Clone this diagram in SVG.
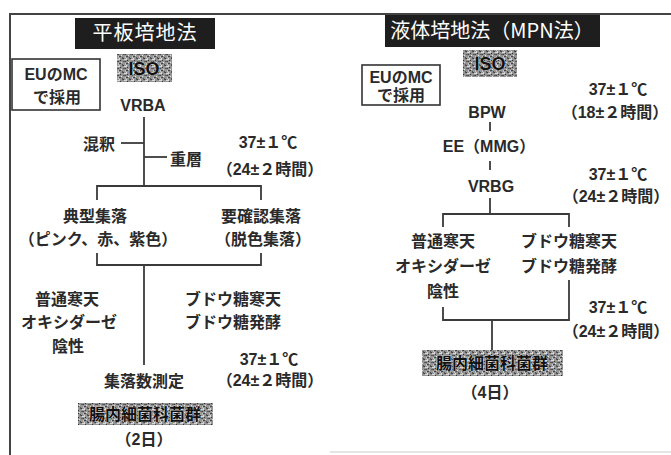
<svg xmlns="http://www.w3.org/2000/svg" width="671" height="455" viewBox="0 0 671 455">
<defs>
<pattern id="noise" width="7" height="7" patternUnits="userSpaceOnUse">
<rect width="7" height="7" fill="#959595"/>
<rect x="0" y="0" width="2" height="1" fill="#444"/>
<rect x="3" y="1" width="1" height="2" fill="#555"/>
<rect x="5" y="3" width="2" height="1" fill="#d8d8d8"/>
<rect x="1" y="4" width="1" height="1" fill="#333"/>
<rect x="4" y="5" width="2" height="1" fill="#5a5a5a"/>
<rect x="2" y="6" width="1" height="1" fill="#e6e6e6"/>
<rect x="6" y="0" width="1" height="2" fill="#c4c4c4"/>
<rect x="0" y="2" width="1" height="2" fill="#dadada"/>
<rect x="4" y="2" width="1" height="1" fill="#3a3a3a"/>
<rect x="6" y="5" width="1" height="1" fill="#444"/>
</pattern>
</defs>
<style>
.t{font-family:"Liberation Sans","Noto Sans CJK JP",sans-serif;font-size:16px;font-weight:bold;fill:#2a2a2a;text-anchor:middle}
.h{font-family:"Noto Sans CJK JP",sans-serif;font-size:20px;fill:#fff;text-anchor:middle}
.ln{fill:none;stroke:#3a3a3a;stroke-width:1.8}
.box{fill:#fff;stroke:#333;stroke-width:1.6}
.tb{fill:#1e1e1e}
.nz{fill:url(#noise)}
.it{font-family:"Liberation Sans","Noto Sans CJK JP",sans-serif;font-weight:bold;fill:#111;text-anchor:middle;stroke:#eee;stroke-width:0.6;paint-order:stroke}
</style>
<rect width="671" height="455" fill="#fff"/>
<path d="M10,455 V14 H671" fill="none" stroke="#444" stroke-width="2"/>
<line x1="330" y1="452" x2="671" y2="452" stroke="#ddd" stroke-width="1.5"/>

<g id="connectors">
<line class="ln" x1="144" y1="117" x2="144" y2="186"/>
<line class="ln" x1="121" y1="143" x2="144" y2="143"/>
<line class="ln" x1="144" y1="157" x2="167" y2="157"/>
<path class="ln" d="M97,200 V186 H261 V200"/>
<path class="ln" d="M97,253 V265 H261 V253"/>
<line class="ln" x1="144" y1="265" x2="144" y2="365"/>
<line class="ln" x1="490" y1="122" x2="490" y2="131"/>
<line class="ln" x1="490" y1="161" x2="490" y2="170"/>
<line class="ln" x1="490" y1="198" x2="490" y2="214"/>
<path class="ln" d="M443,227 V214 H569 V227"/>
<path class="ln" d="M443,307 V320 H569 V280"/>
<line class="ln" x1="492" y1="320" x2="492" y2="350"/>
</g>

<g id="title-left">
<rect class="tb" x="75" y="18" width="140" height="31"/>
<text class="h" x="145" y="40" letter-spacing="1">平板培地法</text>
</g>
<g id="eu-left">
<rect class="box" x="12" y="59" width="88" height="51"/>
<text class="t" x="56" y="80">EUのMC</text>
<text class="t" x="57" y="103">で採用</text>
</g>
<g id="iso-left">
<rect class="nz" x="117" y="54" width="55" height="28"/>
<text class="it" x="144" y="75" font-size="18">ISO</text>
</g>
<g id="vrba"><text class="t" x="143" y="111">VRBA</text></g>
<g id="konshaku"><text class="t" x="99" y="150">混釈</text></g>
<g id="juso"><text class="t" x="186" y="165">重層</text></g>
<g id="cond-l1">
<text class="t" x="268" y="148">37±１℃</text>
<text class="t" x="270" y="175">（24±２時間）</text>
</g>
<g id="typical">
<text class="t" x="95" y="222">典型集落</text>
<text class="t" x="98" y="245">（ピンク、赤、紫色）</text>
</g>
<g id="confirm">
<text class="t" x="261" y="222">要確認集落</text>
<text class="t" x="263" y="245">（脱色集落）</text>
</g>
<g id="oxidase-l">
<text class="t" x="67" y="305">普通寒天</text>
<text class="t" x="69" y="328">オキシダーゼ</text>
<text class="t" x="68" y="352">陰性</text>
</g>
<g id="glucose-l">
<text class="t" x="233" y="305">ブドウ糖寒天</text>
<text class="t" x="233" y="328">ブドウ糖発酵</text>
</g>
<g id="cond-l2">
<text class="t" x="269" y="365">37±１℃</text>
<text class="t" x="270" y="386">（24±２時間）</text>
</g>
<g id="count"><text class="t" x="144" y="387">集落数測定</text></g>
<g id="result-left">
<rect class="nz" x="78" y="403" width="135" height="22"/>
<text class="it" x="145" y="420" font-size="16">腸内細菌科菌群</text>
<text class="t" x="144" y="445">（2日）</text>
</g>

<g id="title-right">
<rect class="tb" x="385" y="15" width="215" height="32"/>
<text class="h" x="492" y="38">液体培地法（MPN法）</text>
</g>
<g id="eu-right">
<rect class="box" x="362" y="65" width="78" height="40"/>
<text class="t" x="401" y="83">EUのMC</text>
<text class="t" x="401" y="101">で採用</text>
</g>
<g id="iso-right">
<rect class="nz" x="463" y="50" width="54" height="27"/>
<text class="it" x="490" y="70" font-size="18">ISO</text>
</g>
<g id="bpw"><text class="t" x="487" y="118">BPW</text></g>
<g id="cond-r1">
<text class="t" x="618" y="95">37±１℃</text>
<text class="t" x="615" y="118">（18±２時間）</text>
</g>
<g id="ee"><text class="t" x="489" y="152">EE（MMG）</text></g>
<g id="vrbg"><text class="t" x="491" y="192">VRBG</text></g>
<g id="cond-r2">
<text class="t" x="618" y="180">37±１℃</text>
<text class="t" x="616" y="202">（24±２時間）</text>
</g>
<g id="oxidase-r">
<text class="t" x="443" y="247">普通寒天</text>
<text class="t" x="443" y="272">オキシダーゼ</text>
<text class="t" x="443" y="297">陰性</text>
</g>
<g id="glucose-r">
<text class="t" x="569" y="247">ブドウ糖寒天</text>
<text class="t" x="569" y="272">ブドウ糖発酵</text>
</g>
<g id="cond-r3">
<text class="t" x="618" y="313">37±１℃</text>
<text class="t" x="616" y="337">（24±２時間）</text>
</g>
<g id="result-right">
<rect class="nz" x="422" y="350" width="141" height="26"/>
<text class="it" x="492" y="369" font-size="16">腸内細菌科菌群</text>
<text class="t" x="490" y="398">（4日）</text>
</g>
</svg>
